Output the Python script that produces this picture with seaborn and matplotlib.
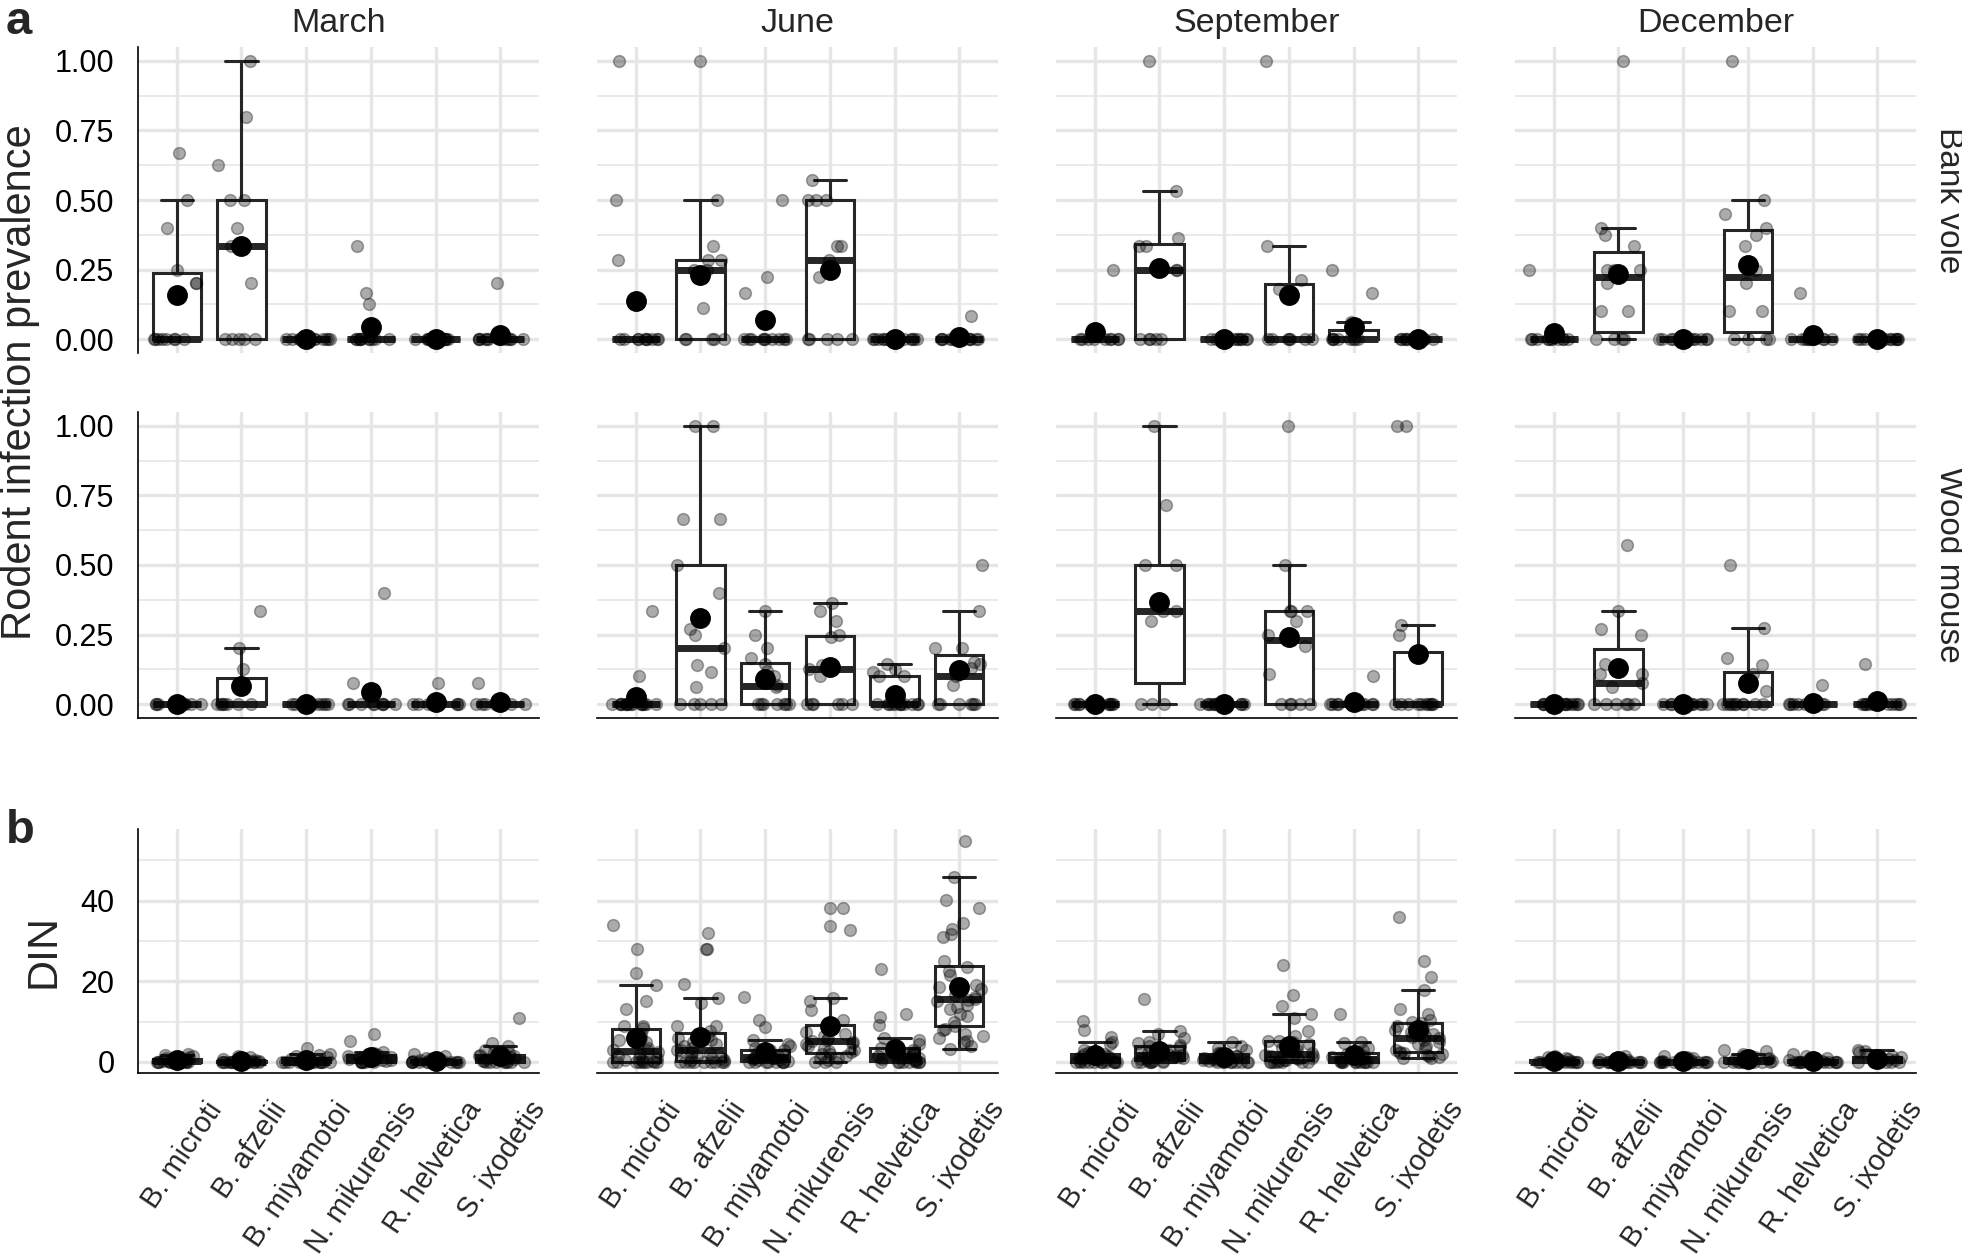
import numpy as np
import pandas as pd
import seaborn as sns
import matplotlib.pyplot as plt
from matplotlib.transforms import ScaledTranslation

species = ["B. microti", "B. afzelii", "B. miyamotoi", "N. mikurensis", "R. helvetica", "S. ixodetis"]
months = ["March", "June", "September", "December"]
hosts = ["Bank vole", "Wood mouse"]

# rodent infection prevalence, bank vole (one list per species)
bv_march = [
    [0.67, 0.5, 0.4, 0.25, 0.2, 0.2, 0, 0, 0, 0, 0, 0, 0, 0],
    [1.0, 0.8, 0.625, 0.5, 0.5, 0.4, 0.333, 0.2, 0, 0, 0, 0, 0],
    [0, 0, 0, 0, 0, 0, 0, 0, 0, 0, 0, 0],
    [0.333, 0.167, 0.125, 0, 0, 0, 0, 0, 0, 0, 0, 0, 0, 0],
    [0, 0, 0, 0, 0, 0, 0, 0, 0, 0, 0, 0],
    [0.2, 0, 0, 0, 0, 0, 0, 0, 0, 0, 0, 0, 0],
]
bv_june = [
    [1.0, 0.5, 0.286, 0, 0, 0, 0, 0, 0, 0, 0, 0, 0],
    [1.0, 0.5, 0.333, 0.286, 0.286, 0.25, 0.25, 0.111, 0, 0, 0, 0, 0],
    [0.5, 0.222, 0.167, 0, 0, 0, 0, 0, 0, 0, 0, 0, 0],
    [0.571, 0.5, 0.5, 0.5, 0.333, 0.333, 0.286, 0.222, 0, 0, 0, 0, 0],
    [0, 0, 0, 0, 0, 0, 0, 0, 0, 0, 0, 0],
    [0.083, 0, 0, 0, 0, 0, 0, 0, 0, 0, 0, 0],
]
bv_september = [
    [0.25, 0, 0, 0, 0, 0, 0, 0, 0, 0],
    [1.0, 0.533, 0.364, 0.333, 0.333, 0.25, 0.25, 0, 0, 0, 0, 0],
    [0, 0, 0, 0, 0, 0, 0, 0, 0, 0],
    [1.0, 0.333, 0.214, 0.18, 0, 0, 0, 0, 0, 0, 0],
    [0.25, 0.167, 0.062, 0, 0, 0, 0, 0, 0, 0, 0],
    [0, 0, 0, 0, 0, 0, 0, 0, 0, 0],
]
bv_december = [
    [0.25, 0, 0, 0, 0, 0, 0, 0, 0, 0, 0, 0],
    [1.0, 0.4, 0.375, 0.333, 0.25, 0.25, 0.25, 0.2, 0.1, 0.1, 0, 0, 0, 0],
    [0, 0, 0, 0, 0, 0, 0, 0, 0, 0, 0, 0],
    [1.0, 0.5, 0.45, 0.4, 0.375, 0.333, 0.25, 0.2, 0.1, 0.1, 0, 0, 0, 0],
    [0.167, 0, 0, 0, 0, 0, 0, 0, 0, 0, 0],
    [0, 0, 0, 0, 0, 0, 0, 0, 0, 0, 0, 0],
]

# rodent infection prevalence, wood mouse
wm_march = [
    [0, 0, 0, 0, 0, 0, 0, 0, 0, 0, 0, 0, 0, 0],
    [0.333, 0.2, 0.125, 0, 0, 0, 0, 0, 0, 0],
    [0, 0, 0, 0, 0, 0, 0, 0, 0, 0, 0, 0],
    [0.4, 0.077, 0, 0, 0, 0, 0, 0, 0, 0, 0],
    [0.077, 0, 0, 0, 0, 0, 0, 0, 0, 0],
    [0.077, 0, 0, 0, 0, 0, 0, 0, 0, 0],
]
wm_june = [
    [0.333, 0.1, 0, 0, 0, 0, 0, 0, 0, 0, 0, 0, 0, 0, 0, 0, 0, 0],
    [1.0, 1.0, 0.667, 0.667, 0.5, 0.4, 0.27, 0.25, 0.2, 0.14, 0.117, 0.063, 0, 0, 0, 0, 0],
    [0.333, 0.25, 0.2, 0.167, 0.143, 0.12, 0.1, 0.069, 0.06, 0, 0, 0, 0, 0, 0, 0],
    [0.364, 0.333, 0.3, 0.25, 0.24, 0.141, 0.141, 0.125, 0.1, 0, 0, 0, 0, 0, 0],
    [0.143, 0.125, 0.114, 0.1, 0.1, 0, 0, 0, 0, 0, 0, 0, 0, 0, 0, 0, 0],
    [0.5, 0.333, 0.2, 0.2, 0.15, 0.144, 0.13, 0.1, 0.07, 0, 0, 0, 0, 0, 0],
]
wm_september = [
    [0, 0, 0, 0, 0, 0, 0, 0, 0, 0, 0, 0],
    [1.0, 0.714, 0.5, 0.5, 0.333, 0.333, 0.3, 0, 0, 0],
    [0, 0, 0, 0, 0, 0, 0, 0, 0, 0, 0, 0],
    [1.0, 0.5, 0.333, 0.333, 0.333, 0.3, 0.25, 0.21, 0.108, 0, 0, 0, 0, 0],
    [0.1, 0, 0, 0, 0, 0, 0, 0, 0, 0, 0],
    [1.0, 1.0, 0.286, 0.25, 0, 0, 0, 0, 0, 0, 0, 0, 0, 0],
]
wm_december = [
    [0, 0, 0, 0, 0, 0, 0, 0, 0, 0, 0, 0, 0, 0],
    [0.571, 0.333, 0.27, 0.25, 0.143, 0.108, 0.108, 0.075, 0.063, 0, 0, 0, 0, 0, 0],
    [0, 0, 0, 0, 0, 0, 0, 0, 0, 0, 0, 0],
    [0.5, 0.272, 0.166, 0.141, 0.108, 0.048, 0, 0, 0, 0, 0, 0, 0, 0, 0, 0],
    [0.067, 0, 0, 0, 0, 0, 0, 0, 0, 0, 0, 0],
    [0.143, 0, 0, 0, 0, 0, 0, 0, 0, 0, 0, 0],
]

# density of infected nymphs (DIN)
din_march = [
    [2.0, 1.8, 1.5, 1.2, 1.0, 0.8, 0.6, 0.5, 0.4, 0.3, 0.2, 0.2, 0.1, 0, 0, 0, 0, 0, 0, 0, 0, 0],
    [1.5, 1.2, 0.8, 0.5, 0.3, 0.2, 0, 0, 0, 0, 0, 0, 0, 0, 0, 0, 0, 0, 0, 0],
    [3.5, 2.0, 1.8, 1.5, 1.2, 0.8, 0.5, 0.3, 0, 0, 0, 0, 0, 0, 0, 0, 0, 0, 0, 0],
    [6.8, 5.1, 2.5, 2.2, 2.0, 1.8, 1.5, 1.5, 1.2, 1.0, 1.0, 0.8, 0.5, 0.5, 0.3, 0.2, 0, 0, 0, 0, 0, 0],
    [2.0, 1.5, 1.0, 0.8, 0.5, 0.3, 0.2, 0, 0, 0, 0, 0, 0, 0, 0, 0, 0, 0, 0, 0],
    [10.9, 4.6, 3.9, 3.0, 2.5, 2.2, 1.8, 1.6, 1.5, 1.4, 1.2, 1.0, 0.8, 0.7, 0.5, 0.3, 0.2,
     0, 0, 0, 0, 0, 0, 0, 0],
]
din_june = [
    [34, 28, 22, 19, 15, 13, 9, 9, 8.5, 7, 6, 5.5, 5, 4.5, 3.5, 3, 3, 2.5, 2, 1.5, 1, 1,
     0.5, 0.5, 0.3, 0, 0, 0, 0, 0, 0, 0, 0, 0],
    [32, 28, 28, 19.2, 15.9, 14.7, 9, 9, 7.6, 6.5, 6, 5.5, 5, 4.5, 4, 3.5, 3, 3, 2.5, 2,
     1.5, 1.5, 1, 1, 0.5, 0.5, 0, 0, 0, 0, 0, 0, 0, 0, 0],
    [16.2, 10.4, 8.7, 5.5, 4.5, 4, 3.5, 3, 3, 2.5, 2.5, 2, 2, 1.5, 1.5, 1.2, 1, 1, 1, 0.8,
     0.5, 0.5, 0.3, 0, 0, 0, 0, 0, 0, 0, 0],
    [38.1, 38.1, 33.7, 32.7, 15.9, 15.2, 12.8, 10.5, 9.2, 9, 8.5, 7.5, 7, 6.5, 6, 5.5, 5.2,
     5, 4.8, 4.5, 4, 3.5, 3, 2.8, 2.5, 2, 2, 1.5, 1, 1, 0.5, 0, 0, 0],
    [23.1, 11.8, 11.1, 9.1, 6, 5.5, 4.5, 4, 3.5, 3.5, 3, 2.8, 2.5, 2, 2, 1.8, 1.5, 1.5,
     1.2, 1, 1, 0.8, 0.5, 0.5, 0.3, 0, 0, 0, 0, 0, 0, 0, 0],
    [54.8, 45.9, 40.1, 38.1, 34.5, 32.9, 31.8, 30.9, 25.1, 23.5, 22.6, 21.5, 19, 18.5, 18,
     16.5, 16, 15.7, 15.3, 15, 14, 13.5, 13, 12, 11.5, 10, 9, 8.2, 8, 7, 6.5, 6, 5.3, 5, 4, 3.1],
]
din_september = [
    [10.1, 8, 6.3, 5, 4.5, 3, 2.5, 2, 2, 1.5, 1.5, 1.2, 1, 1, 0.8, 0.5, 0.5, 0.3,
     0, 0, 0, 0, 0, 0, 0, 0, 0, 0, 0, 0],
    [15.7, 7.6, 7, 6, 5, 4.6, 4.2, 4, 3.6, 3.2, 3, 2.5, 2.2, 2, 1.8, 1.5, 1.3, 1.1, 1,
     0.9, 0.7, 0.5, 0.3, 0.2, 0, 0, 0, 0, 0, 0],
    [5, 4, 3.5, 3, 2.2, 2, 2.1, 1.5, 1.5, 1.2, 1, 1, 0.8, 0.5, 0.5, 0.3,
     0, 0, 0, 0, 0, 0, 0, 0, 0],
    [24.1, 16.7, 13.9, 11.8, 10.9, 7.6, 6.4, 5.2, 5.1, 5, 4.5, 4, 3.5, 3, 2.5, 2.3, 2,
     1.7, 1.5, 1.4, 1.2, 1, 0.9, 0.7, 0.5, 0.4, 0.2, 0, 0, 0, 0, 0, 0, 0],
    [11.9, 5, 4.8, 3.5, 3, 2.5, 2.2, 2, 1.8, 1.5, 1.2, 1, 0.9, 0.7, 0.5, 0.4, 0.2,
     0, 0, 0, 0, 0, 0, 0, 0, 0, 0],
    [35.9, 25, 21, 17.8, 13, 12, 10.5, 9.9, 9.6, 9, 8.5, 8, 7.5, 7, 6.5, 6.1, 5.9, 5.5,
     5, 4.5, 4, 3.5, 3, 2.5, 2.3, 2.1, 2, 1.8, 1.5, 1.3, 1, 1],
]
din_december = [
    [1.5, 1.2, 1.0, 0.8, 0.5, 0.3, 0.2, 0.1, 0, 0, 0, 0, 0, 0, 0, 0, 0, 0, 0, 0],
    [1.5, 1.0, 0.8, 0.5, 0.3, 0.2, 0, 0, 0, 0, 0, 0, 0, 0, 0, 0, 0, 0, 0, 0],
    [1.5, 1.2, 1.0, 0.5, 0.3, 0, 0, 0, 0, 0, 0, 0, 0, 0, 0, 0, 0, 0, 0],
    [3.0, 2.8, 2.0, 1.5, 1.2, 1.0, 1.0, 0.8, 0.5, 0.5, 0.3, 0.2, 0, 0, 0, 0, 0, 0, 0, 0, 0, 0],
    [2.0, 1.5, 1.0, 0.8, 0.5, 0.3, 0, 0, 0, 0, 0, 0, 0, 0, 0, 0, 0, 0, 0, 0],
    [3.0, 2.8, 2.5, 2.0, 1.5, 1.2, 1.0, 1.0, 0.8, 0.5, 0.5, 0.3, 0.2, 0, 0, 0, 0, 0, 0, 0, 0],
]

grid_rows = [
    [bv_march, bv_june, bv_september, bv_december],
    [wm_march, wm_june, wm_september, wm_december],
    [din_march, din_june, din_september, din_december],
]

sns.set_style("white")
plt.rcParams["font.family"] = ["Liberation Sans", "DejaVu Sans"]

W, H = 1962, 1259
fig = plt.figure(figsize=(W / 100, H / 100), dpi=100)

col_left = [138, 597, 1056, 1515]
panel_w = 401
row_span = [(47, 353), (412, 718), (829, 1073)]
grid_col = "#E6E6E6"
np.random.seed(3)


def to_frame(groups):
    sp = [s for s, vals in zip(species, groups) for _ in vals]
    val = [v for vals in groups for v in vals]
    return pd.DataFrame({"species": sp, "value": val})


for r, row in enumerate(grid_rows):
    top, bottom = row_span[r]
    for c, groups in enumerate(row):
        ax = fig.add_axes([col_left[c] / W, 1 - bottom / H, panel_w / W, (bottom - top) / H])
        df = to_frame(groups)
        sns.boxplot(data=df, x="species", y="value", order=species, ax=ax, whis=1.5,
                    showfliers=False, width=0.75, color="white", linecolor="#262626",
                    linewidth=2.2, medianprops=dict(linewidth=5), capwidths=0.5)
        sns.stripplot(data=df, x="species", y="value", order=species, ax=ax, jitter=0.38,
                      size=8.5, color="black", alpha=0.33, edgecolor="black", linewidth=1.1,
                      zorder=3)
        sns.pointplot(data=df, x="species", y="value", order=species, ax=ax, estimator="mean",
                      errorbar=None, linestyle="none", marker="o", markersize=13,
                      color="black", zorder=4)
        ax.set_xlim(-0.6, 5.6)
        if r < 2:
            ax.set_ylim(-0.05, 1.05)
            ax.set_yticks([0, 0.25, 0.5, 0.75, 1.0])
            ax.set_yticklabels(["0.00", "0.25", "0.50", "0.75", "1.00"])
            ax.set_yticks([0.125, 0.375, 0.625, 0.875], minor=True)
        else:
            ax.set_ylim(-2.75, 57.75)
            ax.set_yticks([0, 20, 40])
            ax.set_yticklabels(["0", "20", "40"])
            ax.set_yticks([10, 30, 50], minor=True)
        ax.set_axisbelow(True)
        ax.grid(True, which="major", color=grid_col, linewidth=2.4)
        ax.grid(True, which="minor", axis="y", color=grid_col, linewidth=1.2)
        ax.set_xlabel("")
        ax.set_ylabel("")
        for s in ax.spines.values():
            s.set_visible(False)
        if c == 0:
            ax.spines["left"].set_visible(True)
            ax.spines["left"].set_color("black")
            ax.spines["left"].set_linewidth(1.2)
        if r > 0:
            ax.spines["bottom"].set_visible(True)
            ax.spines["bottom"].set_color("black")
            ax.spines["bottom"].set_linewidth(1.2)
        ax.tick_params(axis="both", which="both", length=0)
        ax.tick_params(axis="y", labelsize=22, pad=17, labelcolor="black")
        if c > 0:
            ax.set_yticklabels([])
        if r == 2:
            ax.set_xticks(range(len(species)))
            ax.set_xticklabels(species, rotation=56, ha="right", va="top",
                               rotation_mode="anchor", fontsize=21)
            ax.tick_params(axis="x", pad=17)
            for lab in ax.get_xticklabels():
                lab.set_transform(lab.get_transform() +
                                  ScaledTranslation(0.28, 0, fig.dpi_scale_trans))
        else:
            ax.set_xticklabels([])
        if r == 0:
            ax.set_title(months[c], fontsize=24.5, pad=11)
        if c == 3 and r < 2:
            ax.text(1.08, 0.5, hosts[r], transform=ax.transAxes, rotation=-90,
                    ha="center", va="center", fontsize=24)

fig.text(20 / W, 1 - 382 / H, "Rodent infection prevalence", rotation=90,
         ha="center", va="center", fontsize=30)
fig.text(44 / W, 1 - 951 / H, "DIN", rotation=90, ha="center", va="center", fontsize=31)
fig.text(6 / W, 1 - 22 / H, "a", ha="left", va="center", fontsize=34, fontweight="bold")
fig.text(6 / W, 1 - 831 / H, "b", ha="left", va="center", fontsize=34, fontweight="bold")

fig.savefig("out.png", dpi=100)
